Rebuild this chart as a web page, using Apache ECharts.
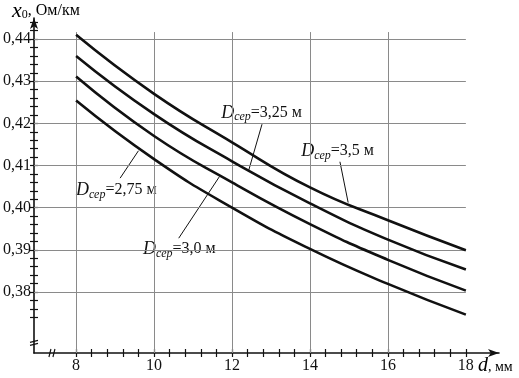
<!DOCTYPE html>
<html lang="ru">
<head>
  <meta charset="UTF-8">
  <title>x0(d)</title>
  <style>
    * { padding: 0; margin: 0; }
    #charts { width: 519px; height: 378px; background: #fff; }
  </style>
</head>
<body>
  <div id="charts"></div>
</body>
<script src="https://cdn.jsdelivr.net/npm/echarts@6/dist/echarts.min.js"></script>
<script type="text/javascript">
  // диаметр провода, мм
  var dValues = [8, 10, 12, 14, 16, 18]
  // x0, Ом/км для разных Dсер
  var x0_350 = [0.441, 0.427, 0.4155, 0.4048, 0.397, 0.3899]
  var x0_325 = [0.436, 0.4222, 0.411, 0.401, 0.3924, 0.3853]
  var x0_300 = [0.4311, 0.417, 0.406, 0.3961, 0.3876, 0.3803]
  var x0_275 = [0.4254, 0.4115, 0.4, 0.3902, 0.3819, 0.3746]

  var xTickLabels = [8, 10, 12, 14, 16, 18]
  var yTickLabels = [0.38, 0.39, 0.40, 0.41, 0.42, 0.43, 0.44]
  var gridXLines = [8, 10, 12, 14, 16]
  var gridYLines = [0.38, 0.39, 0.40, 0.41, 0.42, 0.43, 0.44]

  // подписи кривых: центр подписи и выноска (в единицах осей)
  var notes = [
    { text: '3,25 м', at: [12.76, 0.4225], from: [12.77, 0.4198], to: [12.43, 0.4089] },
    { text: '3,5 м', at: [14.71, 0.4134], from: [14.76, 0.4113], to: [14.98, 0.4012] },
    { text: '2,75 м', at: [9.03, 0.4042], from: [9.13, 0.4070], to: [9.60, 0.4135] },
    { text: '3,0 м', at: [10.65, 0.3902], from: [10.63, 0.3927], to: [11.68, 0.4074] }
  ]

  var xMin = 6.92, xMax = 18.85, yMin = 0.3655, yMax = 0.445
  var serif = 'Liberation Serif'

  var xMinor = [], yMinor = []
  for (var i = 0; i <= 25; i++) xMinor.push(+(8 + i * 0.4).toFixed(2))
  for (var j = 0; j <= 35; j++) yMinor.push(+(0.374 + j * 0.002).toFixed(3))

  function pairs(ys) {
    return dValues.map(function (d, k) { return [d, ys[k]] })
  }

  var myChart = echarts.init(document.getElementById('charts'), null, { renderer: 'canvas' })

  var gridLines = []
  gridXLines.forEach(function (d) {
    gridLines.push([{ coord: [d, yMin] }, { coord: [d, 0.44166] }])
  })
  gridYLines.forEach(function (v) {
    gridLines.push([{ coord: [xMin, v] }, { coord: [18, v] }])
  })

  var richNote = {
    d: { fontFamily: serif, fontStyle: 'italic', fontWeight: 'normal', fontSize: 18, color: '#111' },
    s: { fontFamily: serif, fontStyle: 'italic', fontWeight: 'normal', fontSize: 12, color: '#111', padding: [9, 0, 0, 0] },
    n: { fontFamily: serif, fontWeight: 'normal', fontSize: 16, color: '#111' }
  }

  function curve(name, ys) {
    return {
      name: name,
      type: 'line',
      data: pairs(ys),
      smooth: 0.5,
      symbol: 'none',
      z: 5,
      lineStyle: { color: '#111', width: 2.6 },
      animation: false
    }
  }

  var tickStyle = { color: '#111', width: 1.2 }

  var option = {
    animation: false,
    backgroundColor: '#fff',
    grid: { left: 34, right: 20, top: 18, bottom: 25 },
    xAxis: [{
      type: 'value', min: xMin, max: xMax, position: 'bottom',
      axisLine: { show: true, symbol: ['none', 'arrow'], symbolSize: [6, 11], lineStyle: { color: '#111', width: 1.6 } },
      axisTick: { show: true, customValues: xMinor, length: 4, lineStyle: tickStyle },
      axisLabel: {
        customValues: xTickLabels, margin: 5,
        fontFamily: serif, fontSize: 16, color: '#111'
      },
      splitLine: { show: false }
    }, {
      type: 'value', min: xMin, max: xMax, position: 'bottom',
      axisLine: { show: false },
      axisTick: { show: true, inside: true, customValues: xMinor, length: 4, lineStyle: tickStyle },
      axisLabel: { show: false },
      splitLine: { show: false }
    }],
    yAxis: [{
      type: 'value', min: yMin, max: yMax, position: 'left',
      axisLine: { show: true, symbol: ['none', 'arrow'], symbolSize: [6, 11], lineStyle: { color: '#111', width: 1.6 } },
      axisTick: { show: true, customValues: yMinor, length: 4, lineStyle: tickStyle },
      axisLabel: {
        customValues: yTickLabels, margin: 3,
        fontFamily: serif, fontSize: 16, color: '#111',
        formatter: function (v) { return v.toFixed(2).replace('.', ',') }
      },
      splitLine: { show: false }
    }, {
      type: 'value', min: yMin, max: yMax, position: 'left',
      axisLine: { show: false },
      axisTick: { show: true, inside: true, customValues: yMinor, length: 4, lineStyle: tickStyle },
      axisLabel: { show: false },
      splitLine: { show: false }
    }],
    series: [
      {
        name: 'grid', type: 'line', data: [], z: 1, silent: true,
        markLine: {
          silent: true, symbol: 'none', animation: false,
          label: { show: false },
          lineStyle: { color: '#8a8a8a', width: 1, type: 'solid' },
          data: gridLines
        }
      },
      {
        name: 'notes', type: 'line', data: [], z: 3, silent: true,
        markLine: {
          silent: true, symbol: 'none', animation: false, z: 3,
          label: { show: false },
          lineStyle: { color: '#111', width: 1, type: 'solid' },
          data: notes.map(function (n) { return [{ coord: n.from }, { coord: n.to }] })
        },
        markPoint: {
          silent: true, animation: false, z: 4,
          symbol: 'circle', symbolSize: 1,
          itemStyle: { color: 'rgba(0,0,0,0)' },
          label: {
            show: true, position: 'inside',
            backgroundColor: '#fff', padding: [0, 3, 0, 3],
            formatter: function (p) { return '{d|D}{s|сер}{n|=' + p.name + '}' },
            rich: richNote
          },
          data: notes.map(function (n) { return { name: n.text, coord: n.at } })
        }
      },
      curve('Dсер=3,5 м', x0_350),
      curve('Dсер=3,25 м', x0_325),
      curve('Dсер=3,0 м', x0_300),
      curve('Dсер=2,75 м', x0_275)
    ]
  }

  myChart.setOption(option)

  // подписи осей и знаки разрыва осей
  var yb = myChart.convertToPixel({ gridIndex: 0 }, [xMin, 0.3678])
  var xb = myChart.convertToPixel({ gridIndex: 0 }, [7.38, yMin])
  var brk = { stroke: '#111', lineWidth: 1.2 }
  myChart.setOption({
    graphic: [
      {
        id: 'yname', type: 'text', left: 12, top: 0,
        style: {
          text: '{x|x}{s|0}{n|, Ом/км}',
          rich: {
            x: { fontFamily: serif, fontStyle: 'italic', fontWeight: 'normal', fontSize: 22, color: '#111' },
            s: { fontFamily: serif, fontWeight: 'normal', fontSize: 12, color: '#111', padding: [7, 0, 0, 0] },
            n: { fontFamily: serif, fontWeight: 'normal', fontSize: 16, color: '#111' }
          }
        }
      },
      {
        id: 'xname', type: 'text', left: 478, top: 356,
        style: {
          text: '{d|d}{n|, мм}',
          rich: {
            d: { fontFamily: serif, fontStyle: 'italic', fontWeight: 'normal', fontSize: 20, color: '#111' },
            n: { fontFamily: serif, fontWeight: 'normal', fontSize: 14, color: '#111', padding: [3, 0, 0, 0] }
          }
        }
      },
      { id: 'yb1', type: 'line', shape: { x1: yb[0] - 4, y1: yb[1] - 1, x2: yb[0] + 4, y2: yb[1] - 3 }, style: brk, z: 10 },
      { id: 'yb2', type: 'line', shape: { x1: yb[0] - 4, y1: yb[1] + 2, x2: yb[0] + 4, y2: yb[1] }, style: brk, z: 10 },
      { id: 'xb1', type: 'line', shape: { x1: xb[0] - 3, y1: xb[1] + 4, x2: xb[0] - 1, y2: xb[1] - 4 }, style: brk, z: 10 },
      { id: 'xb2', type: 'line', shape: { x1: xb[0] + 1, y1: xb[1] + 4, x2: xb[0] + 3, y2: xb[1] - 4 }, style: brk, z: 10 }
    ]
  })
</script>
</html>
